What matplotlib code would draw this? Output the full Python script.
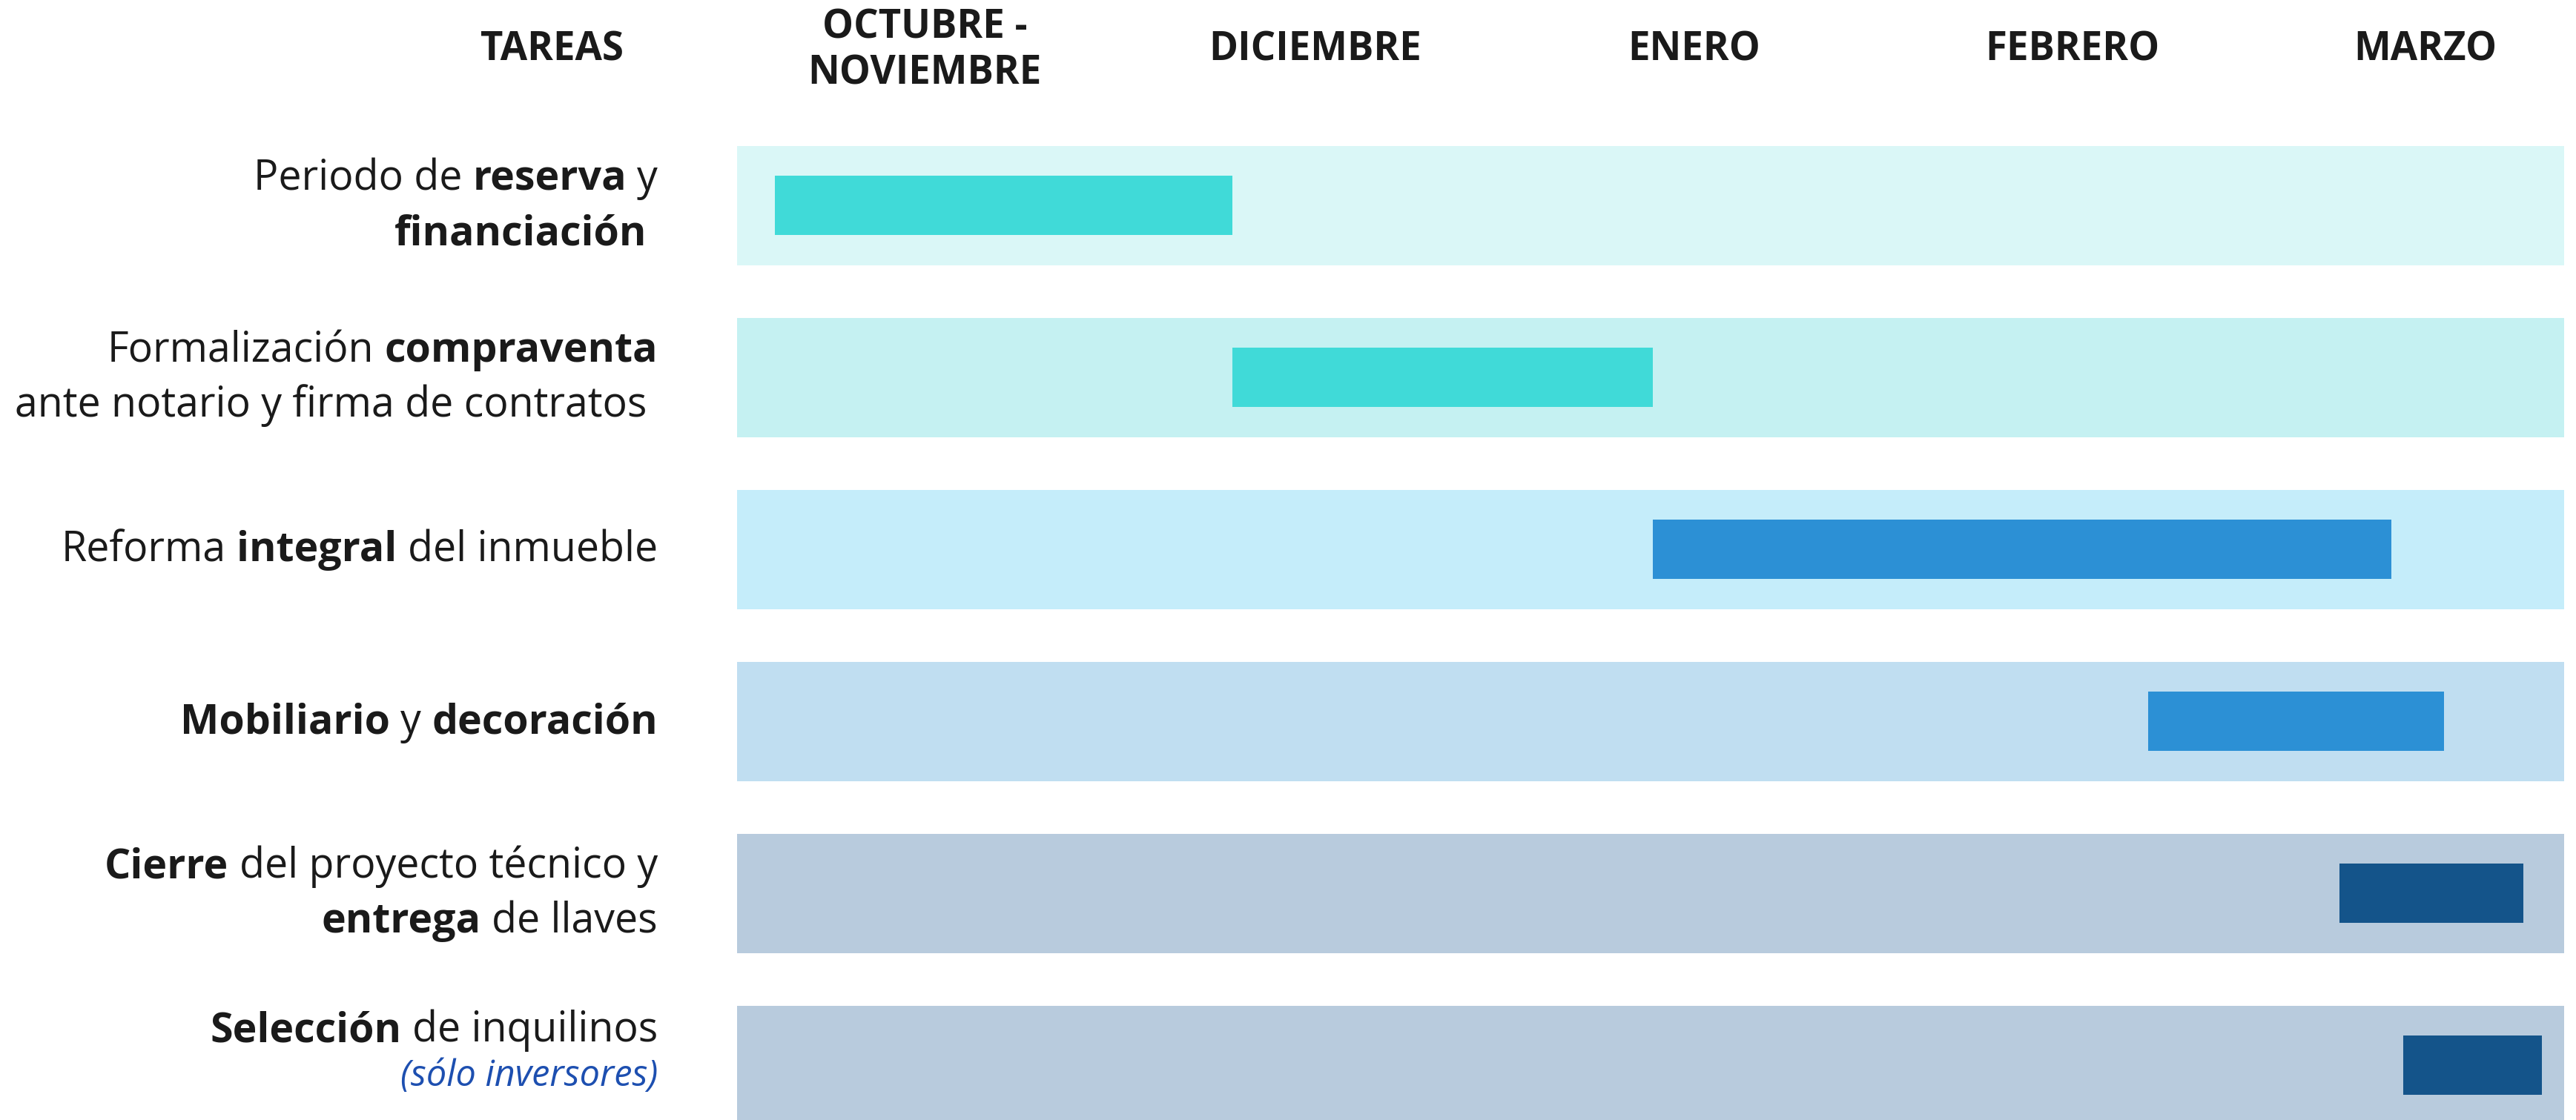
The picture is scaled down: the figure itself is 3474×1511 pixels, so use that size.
import matplotlib
matplotlib.use('Agg')
import matplotlib.pyplot as plt
from matplotlib.transforms import offset_copy

plt.rcParams['font.family'] = ['Open Sans', 'DejaVu Sans']

# header columns
columns = ['OCTUBRE -\nNOVIEMBRE', 'DICIEMBRE', 'ENERO', 'FEBRERO', 'MARZO']
column_pos = [0.50, 1.54, 2.55, 3.56, 4.50]

# tasks: each line is a list of (text, bold) pieces
task_labels = [
    [[('Periodo de ', False), ('reserva', True), (' y', False)],
     [('financiación ', True)]],
    [[('Formalización ', False), ('compraventa', True)],
     [('ante notario y firma de contratos ', False)]],
    [[('Reforma ', False), ('integral', True), (' del inmueble', False)]],
    [[('Mobiliario', True), (' y ', False), ('decoración', True)]],
    [[('Cierre', True), (' del proyecto técnico y', False)],
     [('entrega', True), (' de llaves', False)]],
    [[('Selección', True), (' de inquilinos', False)]],
]
task_note = [None, None, None, None, None, '(sólo inversores)']

task_start = [0.10, 1.32, 2.44, 3.76, 4.27, 4.44]
task_end = [1.32, 2.44, 4.41, 4.55, 4.76, 4.81]
timeline_end = 4.87

band_colors = ['#DAF7F7', '#C5F1F2', '#C5EDFA', '#C0DEF1', '#B8CBDD', '#B8CBDD']
bar_colors = ['#40DAD8', '#40DAD8', '#2C90D5', '#2C90D5', '#14548A', '#14548A']

W, H = 3474, 1511
X0, XU = 994, 506      # pixel of x=0, pixels per column
Y0, YU = 277.3, 232    # pixel of first row, pixels per row


def ypx(p):
    return (p - Y0) / YU


fig = plt.figure(figsize=(W / 100, H / 100), dpi=100)
ax = fig.add_axes([0, 0, 1, 1])
ax.set_xlim(-X0 / XU, (W - X0) / XU)
ax.set_ylim(ypx(H), ypx(0))
ax.axis('off')

rows = list(range(len(task_start)))
ax.barh(rows, [timeline_end] * len(rows), left=0, height=161 / YU,
        color=band_colors, linewidth=0)
ax.barh(rows, [e - s for s, e in zip(task_start, task_end)], left=task_start,
        height=80 / YU, color=bar_colors, linewidth=0)

text_color = '#1A1A1A'
head_size = 38
ax.text(-0.494, ypx(82), 'TAREAS', ha='center', va='baseline',
        fontsize=head_size, fontweight='bold', color=text_color)
for name, x in zip(columns, column_pos):
    if '\n' in name:
        l1, l2 = name.split('\n')
        ax.text(x, ypx(51), l1, ha='center', va='baseline',
                fontsize=head_size, fontweight='bold', color=text_color)
        ax.text(x, ypx(114), l2, ha='center', va='baseline',
                fontsize=head_size, fontweight='bold', color=text_color)
    else:
        ax.text(x, ypx(82), name, ha='center', va='baseline',
                fontsize=head_size, fontweight='bold', color=text_color)

fig.canvas.draw()
renderer = fig.canvas.get_renderer()


def text_width(s, **kw):
    t = ax.text(0, 0, s, **kw)
    w = t.get_window_extent(renderer).width
    t.remove()
    return w


label_size = 40
space = text_width('a a', fontsize=label_size) - text_width('aa', fontsize=label_size)
label_x = (887 - X0) / XU


def rich_line(y, pieces):
    offset = 0
    for txt, bold in reversed(pieces):
        core = txt.strip(' ')
        offset += (len(txt) - len(txt.rstrip(' '))) * space
        kw = dict(fontsize=label_size, fontweight='bold' if bold else 'normal')
        tr = offset_copy(ax.transData, fig=fig, x=-offset, y=0, units='dots')
        ax.text(label_x, y, core, ha='right', va='baseline', color=text_color,
                transform=tr, **kw)
        offset += text_width(core, **kw)
        offset += (len(txt) - len(txt.lstrip(' '))) * space


for i, lines in enumerate(task_labels):
    if task_note[i]:
        rich_line(i + (-32) / YU, lines[0])
        ax.text(label_x, i + 28 / YU, task_note[i], ha='right', va='baseline',
                fontsize=35, fontstyle='italic', color='#1D4FB0')
    elif len(lines) == 2:
        rich_line(i + (-21) / YU, lines[0])
        rich_line(i + 53 / YU, lines[1])
    else:
        rich_line(i + 16 / YU, lines[0])

fig.savefig('out.png', dpi=100, facecolor='white')
